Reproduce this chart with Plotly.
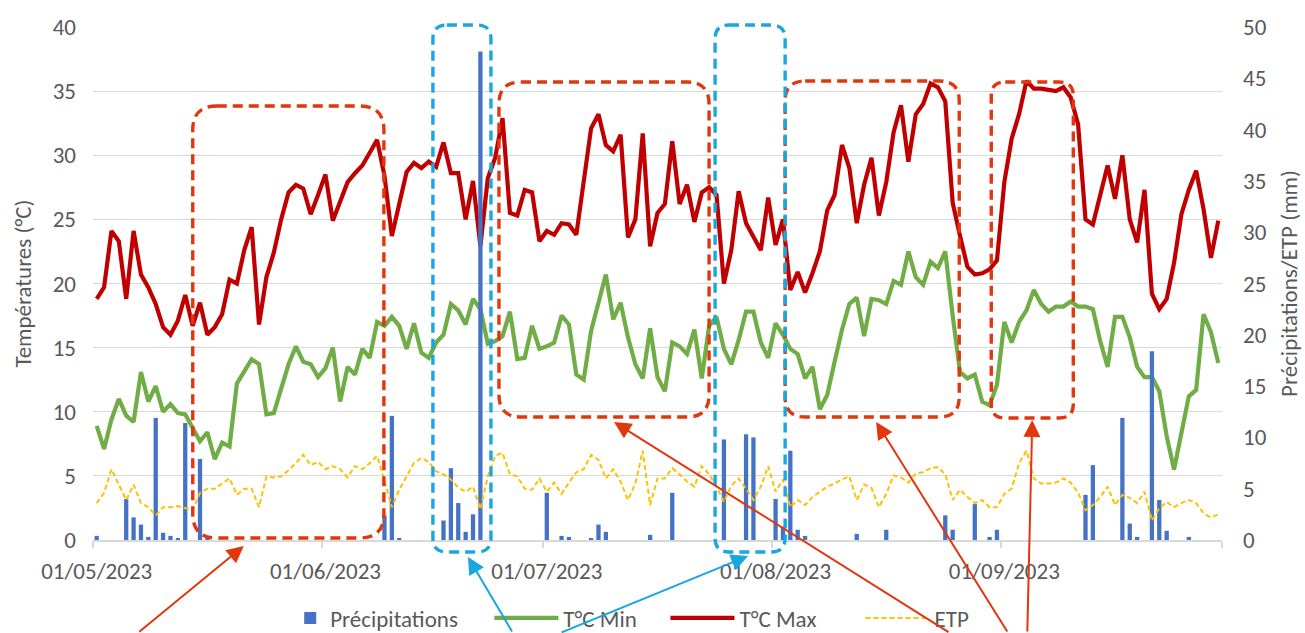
import pandas as pd
import plotly.graph_objects as go

# ---------------- data ----------------
start_date = "2023-05-01"
n_days = 153

tmax = [18.8, 19.7, 24.1, 23.3, 18.8, 24.1, 20.7, 19.7, 18.4, 16.6,
        16.0, 17.1, 19.1, 16.7, 18.5, 16.0, 16.6, 17.6, 20.3, 20.0,
        22.6, 24.4, 16.8, 20.5, 22.4, 25.0, 27.1, 27.7, 27.4, 25.4,
        26.9, 28.5, 24.9, 26.5, 27.9, 28.6, 29.2, 30.2, 31.2, 28.4,
        23.7, 26.2, 28.7, 29.4, 29.0, 29.5, 29.1, 31.0, 28.6, 28.6,
        25.0, 28.0, 22.9, 28.2, 29.8, 32.9, 25.5, 25.3, 27.3, 27.1,
        23.3, 24.1, 23.8, 24.7, 24.6, 23.8, 28.2, 32.1, 33.2, 30.8,
        30.3, 31.6, 23.6, 25.0, 31.7, 22.9, 25.5, 26.2, 31.1, 26.2,
        27.7, 24.8, 27.1, 27.5, 26.9, 20.0, 22.6, 27.2, 24.7, 23.7,
        22.6, 26.7, 23.0, 25.0, 19.5, 20.9, 19.3, 20.8, 22.5, 25.7,
        26.9, 30.8, 29.0, 24.7, 27.7, 29.8, 25.3, 27.9, 31.8, 33.9,
        29.5, 33.2, 34.0, 35.6, 35.3, 34.2, 26.3, 23.7, 21.3, 20.7,
        20.8, 21.1, 21.8, 27.9, 31.3, 33.2, 35.8, 35.2, 35.2, 35.1,
        35.0, 35.3, 34.5, 32.4, 25.0, 24.6, 26.9, 29.2, 26.6, 30.0,
        25.0, 23.2, 27.3, 19.2, 18.0, 18.8, 21.6, 25.4, 27.3, 28.8,
        25.8, 22.0, 24.9]

tmin = [8.9, 7.1, 9.4, 11.0, 9.7, 9.2, 13.1, 10.8, 12.0, 10.0,
        10.6, 9.9, 9.8, 8.7, 7.7, 8.4, 6.3, 7.6, 7.3, 12.2,
        13.1, 14.1, 13.7, 9.8, 9.9, 11.8, 13.7, 15.1, 13.9, 13.7,
        12.7, 13.4, 15.0, 10.8, 13.5, 12.9, 14.9, 14.2, 17.0, 16.7,
        17.4, 16.7, 14.9, 16.9, 14.6, 14.2, 15.4, 16.0, 18.4, 17.9,
        16.8, 18.8, 18.0, 15.3, 15.5, 15.9, 17.8, 14.1, 14.2, 16.7,
        14.9, 15.1, 15.4, 17.5, 16.8, 12.9, 12.5, 16.3, 18.4, 20.7,
        17.2, 18.5, 15.8, 13.7, 12.6, 16.5, 12.7, 11.6, 15.4, 15.1,
        14.5, 16.4, 12.6, 16.7, 17.4, 14.9, 13.7, 15.6, 17.8, 17.8,
        15.4, 14.2, 16.9, 16.0, 14.9, 14.5, 12.6, 13.5, 10.2, 11.3,
        13.9, 16.4, 18.4, 18.9, 15.9, 18.8, 18.7, 18.4, 20.2, 19.9,
        22.5, 20.5, 19.9, 21.7, 21.2, 22.5, 17.5, 13.1, 12.6, 12.9,
        10.8, 10.5, 12.1, 17.0, 15.4, 17.0, 17.9, 19.5, 18.4, 17.8,
        18.2, 18.2, 18.6, 18.2, 18.2, 18.0, 15.5, 13.5, 17.4, 17.4,
        15.8, 13.5, 12.7, 12.7, 11.6, 8.1, 5.5, 8.4, 11.2, 11.7,
        17.6, 16.2, 13.8]

etp = [3.6, 4.6, 6.9, 5.4, 3.9, 5.4, 3.6, 3.2, 2.4, 3.2,
       3.2, 3.3, 3.1, 2.9, 4.6, 5.0, 5.0, 5.5, 6.0, 4.4,
       5.0, 5.0, 3.2, 6.2, 6.1, 6.2, 6.8, 7.5, 8.3, 7.3,
       7.6, 6.9, 7.2, 6.9, 6.1, 7.2, 6.9, 7.5, 8.2, 5.8,
       3.2, 4.9, 6.2, 7.5, 8.0, 7.6, 6.7, 6.4, 5.9, 5.1,
       4.7, 5.2, 3.0, 6.2, 8.2, 8.5, 6.4, 6.2, 5.0, 4.9,
       6.0, 4.7, 5.6, 4.5, 5.6, 6.6, 6.9, 8.3, 7.8, 6.0,
       6.9, 5.7, 3.9, 5.5, 8.7, 3.4, 6.0, 6.0, 7.0, 6.4,
       5.7, 5.2, 7.2, 6.4, 5.2, 3.7, 5.3, 6.0, 5.0, 3.9,
       5.2, 7.2, 4.7, 5.9, 3.2, 3.9, 3.4, 4.2, 4.7, 5.2,
       5.5, 5.9, 6.2, 3.9, 5.4, 5.1, 3.2, 4.5, 6.3, 6.1,
       5.6, 6.5, 6.6, 7.0, 7.1, 6.4, 3.9, 4.9, 4.2, 3.6,
       3.9, 3.2, 3.2, 4.5, 5.0, 7.5, 8.7, 6.0, 5.5, 5.5,
       5.6, 6.0, 5.6, 4.6, 2.9, 3.4, 4.2, 5.2, 3.4, 4.4,
       4.1, 3.6, 4.7, 1.9, 3.1, 3.7, 3.2, 3.6, 3.9, 3.6,
       2.6, 2.2, 2.5]

precip = [0.4, 0, 0, 0, 4.0, 2.2, 1.5, 0.3, 11.9, 0.7,
          0.4, 0.2, 11.4, 0, 7.9, 0.3, 0, 0, 0, 0,
          0, 0, 0, 0, 0, 0, 0, 0, 0, 0,
          0, 0, 0, 0, 0, 0, 0, 0, 0, 2.4,
          12.1, 0.2, 0, 0, 0, 0, 0, 1.9, 7.0, 3.6,
          0.8, 2.5, 47.6, 0, 0, 0, 0, 0, 0, 0,
          0, 4.6, 0, 0.4, 0.3, 0, 0, 0.2, 1.5, 0.8,
          0, 0, 0, 0, 0, 0.5, 0, 0, 4.6, 0,
          0, 0, 0, 0, 0, 9.8, 0, 0, 10.3, 10.0,
          0, 0, 4.0, 1.3, 8.7, 1.0, 0.4, 0, 0, 0,
          0, 0, 0, 0.6, 0, 0, 0, 1.0, 0, 0,
          0, 0, 0, 0, 0, 2.4, 1.0, 0, 0, 3.5,
          0, 0.3, 1.0, 0, 0, 0, 0, 0, 0, 0,
          0, 0, 0, 0, 4.4, 7.3, 0, 0, 0, 11.9,
          1.6, 0.3, 0, 18.4, 3.9, 0.9, 0, 0, 0.3, 0,
          0, 0, 0]

month_ticks = ["2023-05-01", "2023-06-01", "2023-07-01", "2023-08-01", "2023-09-01"]
month_labels = ["01/05/2023", "01/06/2023", "01/07/2023", "01/08/2023", "01/09/2023"]
month_bounds = ["2023-04-30 12:00", "2023-05-31 12:00", "2023-06-30 12:00",
                "2023-07-31 12:00", "2023-08-31 12:00", "2023-09-30 12:00"]

dates = pd.date_range(start_date, periods=n_days, freq="D")

# ---------------- styling ----------------
FONT = "Calibri, Carlito, Lato, sans-serif"
GRAY = "#595959"
GRID = "#d9d9d9"
RED_BOX = "#E2360C"
BLUE_BOX = "#19A7DE"

fig = go.Figure()
fig.add_trace(go.Bar(x=dates, y=precip, name="Précipitations", yaxis="y2", legend="legend",
                     marker=dict(color="#4472C4", line=dict(width=0))))
fig.add_trace(go.Scatter(x=dates, y=tmin, name="T°C Min", mode="lines", legend="legend2",
                         line=dict(color="#70AD47", width=4.2)))
fig.add_trace(go.Scatter(x=dates, y=tmax, name="T°C Max", mode="lines", legend="legend3",
                         line=dict(color="#C00000", width=4.2)))
fig.add_trace(go.Scatter(x=dates, y=etp, name="ETP", mode="lines", yaxis="y2", legend="legend4",
                         line=dict(color="#FFC000", width=2, dash="5px,3px")))

# ---------------- highlight boxes (pixel geometry of the reference) ----------------
PX0, PW = 93.3, 1128.3   # plot area left / width (px)
PY0, PH = 540.0, 513.0   # plot area bottom / height (px)


def px_to_paper(x, y):
    return (x - PX0) / PW, (PY0 - y) / PH


def rounded_box(left, top, right, bottom, r):
    x0, y1 = px_to_paper(left, top)
    x1, y0 = px_to_paper(right, bottom)
    rx, ry = r / PW, r / PH
    return (f"M {x0+rx},{y1} L {x1-rx},{y1} Q {x1},{y1} {x1},{y1-ry} "
            f"L {x1},{y0+ry} Q {x1},{y0} {x1-rx},{y0} L {x0+rx},{y0} "
            f"Q {x0},{y0} {x0},{y0+ry} L {x0},{y1-ry} Q {x0},{y1} {x0+rx},{y1} Z")


boxes = [
    (193, 106, 384, 538, 24, RED_BOX),
    (499, 82, 709, 417, 22, RED_BOX),
    (785, 81, 959, 417, 20, RED_BOX),
    (991, 82, 1073, 418, 14, RED_BOX),
    (433, 25, 491, 552, 14, BLUE_BOX),
    (715, 25, 785, 552, 14, BLUE_BOX),
]
for l, t, r_, b, rad, col in boxes:
    fig.add_shape(type="path", path=rounded_box(l, t, r_, b, rad), xref="paper", yref="paper",
                  line=dict(color=col, width=3.4, dash="10px,6px"), fillcolor="rgba(0,0,0,0)",
                  layer="above")

# arrows: (tail px, tip px, colour)
arrows = [
    ((138, 640), (244, 546), RED_BOX),
    ((513, 640), (468, 557), BLUE_BOX),
    ((560, 640), (748, 556), BLUE_BOX),
    ((950, 640), (614, 422), RED_BOX),
    ((1008, 640), (876, 422), RED_BOX),
    ((1027, 640), (1032, 420), RED_BOX),
]
for (tx, ty), (hx, hy), col in arrows:
    xp, yp = px_to_paper(hx, hy)
    fig.add_annotation(x=xp, y=yp, xref="paper", yref="paper", text="", showarrow=True,
                       ax=tx - hx, ay=ty - hy, axref="pixel", ayref="pixel",
                       arrowhead=2, arrowsize=1.7, arrowwidth=2, arrowcolor=col, standoff=0)

# legends: one per entry so each can sit where the reference has it
legend_y = (PY0 - 618) / PH


def legend_at(origin_px, item_w, entry_w):
    return dict(orientation="h", x=(origin_px - 2.6 - PX0) / PW, xanchor="left",
                y=legend_y, yanchor="middle", font=dict(size=23, color=GRAY),
                itemwidth=item_w, entrywidth=entry_w, entrywidthmode="pixels",
                tracegroupgap=0, borderwidth=0, bgcolor="rgba(0,0,0,0)")


fig.update_layout(
    width=1305, height=633,
    margin=dict(l=93, r=83, t=27, b=93, autoexpand=False),
    paper_bgcolor="white", plot_bgcolor="white",
    font=dict(family=FONT, color=GRAY, size=23),
    bargap=0.42,
    showlegend=True,
    legend=legend_at(293, 30, 150),
    legend2=legend_at(492, 64, 100),
    legend3=legend_at(668, 64, 110),
    legend4=legend_at(863, 64, 60),
    xaxis=dict(type="date", range=["2023-04-30 12:00", "2023-09-30 12:00"],
               tickmode="array", tickvals=month_ticks, ticktext=month_labels,
               showgrid=False, zeroline=False, showline=True, linecolor=GRID, linewidth=1.5,
               ticks="", ticklabelstandoff=10, tickfont=dict(size=23, color=GRAY),
               automargin=False,
               minor=dict(tickmode="array", tickvals=month_bounds, ticks="outside",
                          ticklen=6, tickcolor=GRID, tickwidth=1.5, showgrid=False)),
    yaxis=dict(range=[0, 40], dtick=5, showgrid=True, gridcolor=GRID, gridwidth=1.2,
               zeroline=False, showline=False, ticks="", ticklabelstandoff=16,
               tickfont=dict(size=23, color=GRAY), automargin=False,
               title=dict(text="Températures (°C)", font=dict(size=23, color=GRAY), standoff=14)),
    yaxis2=dict(range=[0, 50], dtick=5, overlaying="y", side="right", showgrid=False,
                zeroline=False, showline=False, ticks="", ticklabelstandoff=20,
                tickfont=dict(size=23, color=GRAY), automargin=False,
                title=dict(text="Précipitations/ETP (mm)", font=dict(size=23, color=GRAY), standoff=15)),
)

fig.write_html("out.html", config={"displayModeBar": False},
               post_script="document.body.style.margin='0px';")
